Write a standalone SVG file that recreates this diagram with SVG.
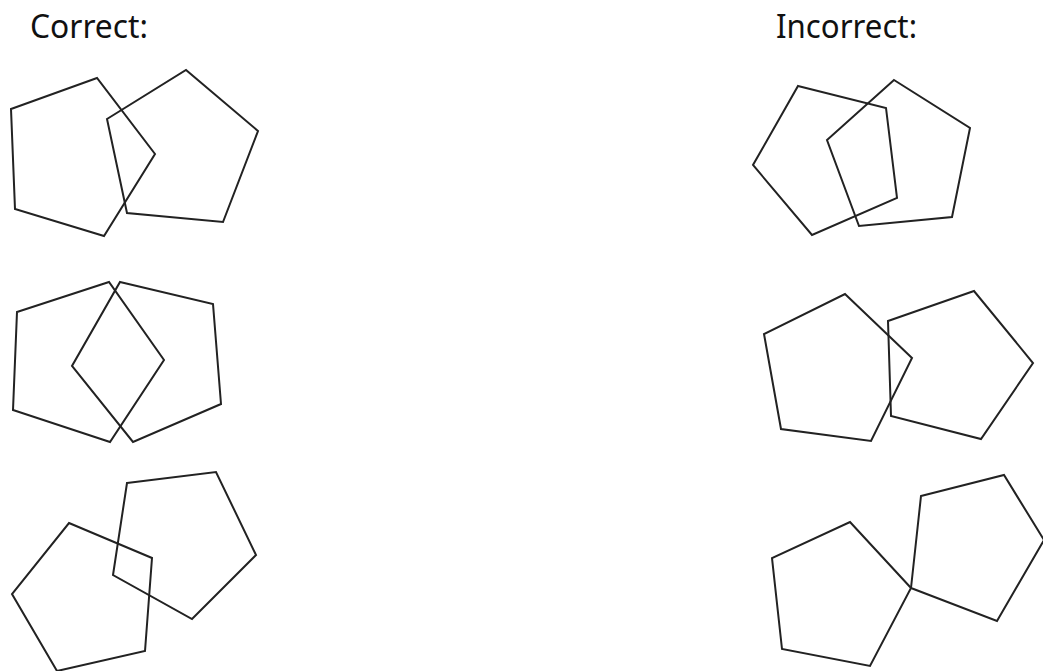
<svg xmlns="http://www.w3.org/2000/svg" width="1043" height="671" viewBox="0 0 1043 671">
<style>
.p{fill:none;stroke:#222;stroke-width:2;stroke-linejoin:miter}
.t{font-family:"Noto Sans","Open Sans",sans-serif;font-size:32px;fill:#111}
</style>
<rect width="1043" height="671" fill="#fff"/>
<text class="t" x="30" y="38" textLength="118" lengthAdjust="spacingAndGlyphs">Correct:</text>
<text class="t" x="776" y="38" textLength="141" lengthAdjust="spacingAndGlyphs">Incorrect:</text>
<g id="correct1">
<polygon class="p" points="11,109 97,78 155,154 104,236 15,209"/>
<polygon class="p" points="107,119 186,70 258,131 223,222 127,213"/>
</g>
<g id="correct2">
<polygon class="p" points="17,312 109,282 164,360 110,442 13,410"/>
<polygon class="p" points="120,282 213,304 221,404 133,442 72,366"/>
</g>
<g id="correct3">
<polygon class="p" points="69,523 152,558 145,651 57,671 12,594"/>
<polygon class="p" points="127,483 216,472 256,555 192,619 113,575"/>
</g>
<g id="incorrect1">
<polygon class="p" points="798,86 886,108 897,198 812,235 753,165"/>
<polygon class="p" points="894,80 970,128 952,217 859,226 827,140"/>
</g>
<g id="incorrect2">
<polygon class="p" points="845,294 912,358 871,441 781,429 764,334"/>
<polygon class="p" points="888,321 974,291 1033,363 981,439 891,416"/>
</g>
<g id="incorrect3">
<polygon class="p" points="850,522 911,588 870,666 782,649 772,558"/>
<polygon class="p" points="921,496 1004,475 1044,540 997,621 911,588"/>
</g>
</svg>
